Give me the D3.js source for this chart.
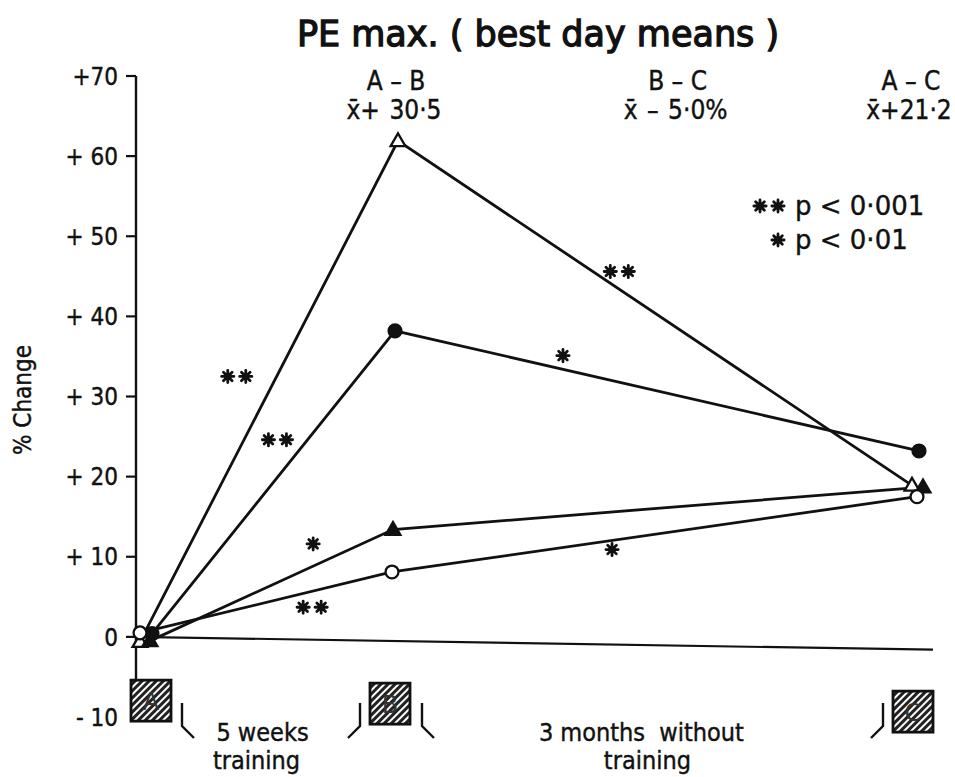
<!DOCTYPE html>
<html>
<head>
<meta charset="utf-8">
<script src="https://cdn.jsdelivr.net/npm/d3@7"></script>
<style>
	body { margin: 0; background: #fff; }
	text { font-family: 'DejaVu Sans', sans-serif; fill: #111; stroke: #111; stroke-width: 0.4px; }
	.narrow { font-family: 'DejaVu Sans Condensed', 'DejaVu Sans', sans-serif; }
</style>
</head>
<body>
<div class="graphic"></div>
<script>
// stages and their time (weeks)
const stages = ['A', 'B', 'C']
const stageWeeks = [0, 5, 18]

// % change at each stage
const openTriangle = [-0.6, 61.9, 18.9]
const filledCircle = [0.4, 38.2, 23.2]
const filledTriangle = [-0.5, 13.4, 18.7]
const openCircle = [0.5, 8.1, 17.5]

const yTicks = [-10, 0, 10, 20, 30, 40, 50, 60, 70]
const yTickLabels = ['- 10', '0', '+ 10', '+ 20', '+ 30', '+ 40', '+ 50', '+ 60', '+70']

const headerLabels = ['A \u2013 B', 'B \u2013 C', 'A \u2013 C']
const headerMeans = ['x\u0304+ 30\u00b75', 'x\u0304 \u2013 5\u00b70%', 'x\u0304+21\u00b72']
const headerWeeks = [5, 12, 17.8]

// significance stars: weeks, % change, count
const sigWeeks = [1.83, 2.65, 3.37, 3.35, 10.6, 9.2, 10.42]
const sigValues = [32.5, 24.6, 11.6, 3.7, 45.6, 35.1, 10.9]
const sigCounts = [2, 2, 1, 2, 2, 1, 1]

const legendLabels = ['p < 0\u00b7001', 'p < 0\u00b701']
const legendCounts = [2, 1]

const periodLabels = [['5 weeks', 'training'], ['3 months  without', 'training']]
const periodWeeks = [2.35, 11.15]

const width = 955
const height = 777

// marker styling per series (small horizontal nudges so markers don't overlap)
const series = [
	{ name: 'openTriangle', values: openTriangle, shape: d3.symbolTriangle, fill: '#fff', dx: [-6, 4, -5] },
	{ name: 'filledCircle', values: filledCircle, shape: d3.symbolCircle, fill: '#111', dx: [6, 1, 2] },
	{ name: 'filledTriangle', values: filledTriangle, shape: d3.symbolTriangle, fill: '#111', dx: [4, -1, 6] },
	{ name: 'openCircle', values: openCircle, shape: d3.symbolCircle, fill: '#fff', dx: [-6, -2, 0] },
]

const star8 = {
	draw(context, size) {
		const r = Math.sqrt(size) / 2
		for (let i = 0; i < 4; i++) {
			const a = i * Math.PI / 4
			context.moveTo(r * Math.cos(a), r * Math.sin(a))
			context.lineTo(-r * Math.cos(a), -r * Math.sin(a))
		}
	}
}

const svg = d3.select('.graphic').append('svg')
	.attr('width', width)
	.attr('height', height)
	.style('display', 'block')

const scale = {
	x: d3.scaleLinear().domain(stageWeeks).range([146, 394, 917]),
	y: d3.scaleLinear().domain([-10, 70]).range([717, 76]),
}

function drawStar(g, cx, cy) {
	g.append('path')
		.attr('transform', `translate(${cx},${cy})`)
		.attr('d', d3.symbol(star8, 150)())
		.attr('stroke', '#111')
		.attr('stroke-width', 2.8)
		.attr('stroke-linecap', 'round')
	g.append('circle')
		.attr('cx', cx)
		.attr('cy', cy)
		.attr('r', 3.6)
		.attr('fill', '#111')
}

function drawStars(g, cx, cy, n) {
	const gap = 18
	for (let i = 0; i < n; i++) {
		drawStar(g, cx + (i - (n - 1) / 2) * gap, cy)
	}
}

function createChart() {
	const axisX = 136

	// title
	svg.append('text')
		.attr('x', 538)
		.attr('y', 46)
		.attr('text-anchor', 'middle')
		.style('font-size', '35px')
		.style('stroke-width', '1.3px')
		.text('PE max. ( best day means )')

	// y axis
	const yAxis = svg.append('g')
	yAxis.append('line')
		.attr('x1', axisX).attr('x2', axisX)
		.attr('y1', scale.y(70)).attr('y2', scale.y(-5.4))
		.attr('stroke', '#111')
		.attr('stroke-width', 2.4)

	yAxis.selectAll('.tick')
		.data(yTicks.filter(d => d > -10))
		.enter().append('line')
			.attr('x1', axisX - 10).attr('x2', axisX)
			.attr('y1', d => scale.y(d)).attr('y2', d => scale.y(d))
			.attr('stroke', '#111')
			.attr('stroke-width', 2.2)

	yAxis.selectAll('.label')
		.data(yTicks)
		.enter().append('text')
			.attr('class', 'narrow')
			.attr('x', 118)
			.attr('y', d => scale.y(d))
			.attr('dy', '0.36em')
			.attr('text-anchor', 'end')
			.style('font-size', '24px')
			.text((d, i) => yTickLabels[i])

	svg.append('text')
		.attr('class', 'narrow')
		.attr('transform', `translate(31,${400}) rotate(-90)`)
		.attr('text-anchor', 'middle')
		.style('font-size', '24px')
		.text('% Change')

	// zero line (drawn slightly off level, as in the original)
	svg.append('line')
		.attr('x1', axisX).attr('y1', scale.y(0))
		.attr('x2', 933).attr('y2', scale.y(-1.6))
		.attr('stroke', '#111')
		.attr('stroke-width', 2.2)

	// headers
	const header = svg.append('g')
	header.selectAll('.hl')
		.data(headerLabels)
		.enter().append('text')
			.attr('class', 'narrow')
			.attr('x', (d, i) => scale.x(headerWeeks[i]) + 2)
			.attr('y', 90)
			.attr('text-anchor', 'middle')
			.style('font-size', '26px')
			.text(d => d)
	header.selectAll('.hm')
		.data(headerMeans)
		.enter().append('text')
			.attr('class', 'narrow')
			.attr('x', (d, i) => scale.x(headerWeeks[i]))
			.attr('y', 119)
			.attr('text-anchor', 'middle')
			.style('font-size', '26px')
			.style('word-spacing', '2px')
			.text(d => d)

	// legend
	const legend = svg.append('g')
	legendLabels.forEach((label, i) => {
		const ly = 206 + i * 34
		drawStars(legend, 778 - (legendCounts[i] - 1) * 9, ly, legendCounts[i])
		legend.append('text')
			.attr('x', 795)
			.attr('y', ly)
			.attr('dy', '0.36em')
			.style('font-size', '26px')
			.text(label)
	})

	// lines
	const line = d3.line()
		.x(d => d.x)
		.y(d => d.y)

	series.forEach(s => {
		const pts = s.values.map((v, i) => ({ x: scale.x(stageWeeks[i]) + s.dx[i], y: scale.y(v) }))
		svg.append('path')
			.datum(pts)
			.attr('d', line)
			.attr('fill', 'none')
			.attr('stroke', '#111')
			.attr('stroke-width', 2.8)
	})

	series.forEach(s => {
		svg.append('g').selectAll('path')
			.data(s.values)
			.enter().append('path')
				.attr('transform', (d, i) => `translate(${scale.x(stageWeeks[i]) + s.dx[i]},${scale.y(d) + (s.shape === d3.symbolTriangle ? 1 : 0)})`)
				.attr('d', d3.symbol(s.shape, s.shape === d3.symbolTriangle ? 95 : 130))
				.attr('fill', s.fill)
				.attr('stroke', '#111')
				.attr('stroke-width', 2.3)
	})

	// significance stars
	const sig = svg.append('g')
	sigWeeks.forEach((w, i) => drawStars(sig, scale.x(w), scale.y(sigValues[i]), sigCounts[i]))

	// stage boxes
	const defs = svg.append('defs')
	const pat = defs.append('pattern')
		.attr('id', 'hatch')
		.attr('patternUnits', 'userSpaceOnUse')
		.attr('width', 5)
		.attr('height', 5)
		.attr('patternTransform', 'rotate(45)')
	pat.append('rect').attr('width', 5).attr('height', 5).attr('fill', '#222')
	pat.append('rect').attr('width', 2).attr('height', 5).attr('fill', '#fff')

	const boxDx = [5, -4, -4]
	const boxDy = [0, 3, 11]
	const boxTop = scale.y(-5.4)
	const box = svg.append('g').selectAll('g')
		.data(stages)
		.enter().append('g')
			.attr('transform', (d, i) => `translate(${scale.x(stageWeeks[i]) + boxDx[i] - 20},${boxTop + boxDy[i]})`)
	box.append('rect')
		.attr('width', 40)
		.attr('height', 41)
		.attr('fill', 'url(#hatch)')
		.attr('stroke', '#111')
		.attr('stroke-width', 2.8)
	box.append('text')
		.attr('x', 20)
		.attr('y', 21)
		.attr('dy', '0.36em')
		.attr('text-anchor', 'middle')
		.style('font-size', '24px')
		.style('fill', '#333')
		.style('stroke', 'none')
		.text(d => d)

	// brackets beside boxes: [x, direction]
	const brackets = [
		[scale.x(0) + 36, 1],
		[scale.x(5) - 34, -1],
		[scale.x(5) + 28, 1],
		[scale.x(18) - 34, -1],
	]
	svg.append('g').selectAll('path')
		.data(brackets)
		.enter().append('path')
			.attr('d', d => `M${d[0]},703 L${d[0]},726 L${d[0] + d[1] * 12},738`)
			.attr('fill', 'none')
			.attr('stroke', '#111')
			.attr('stroke-width', 2.4)

	// period labels
	periodLabels.forEach((lines, i) => {
		lines.forEach((t, j) => {
			svg.append('text')
				.attr('class', 'narrow')
				.attr('x', scale.x(periodWeeks[i]) + (j ? -6 : 0) * (i ? -1 : 1))
				.attr('y', 741 + j * 28)
				.attr('text-anchor', 'middle')
				.style('font-size', '25px')
				.style('white-space', 'pre')
				.text(t)
		})
	})
}

createChart()
</script>
</body>
</html>
